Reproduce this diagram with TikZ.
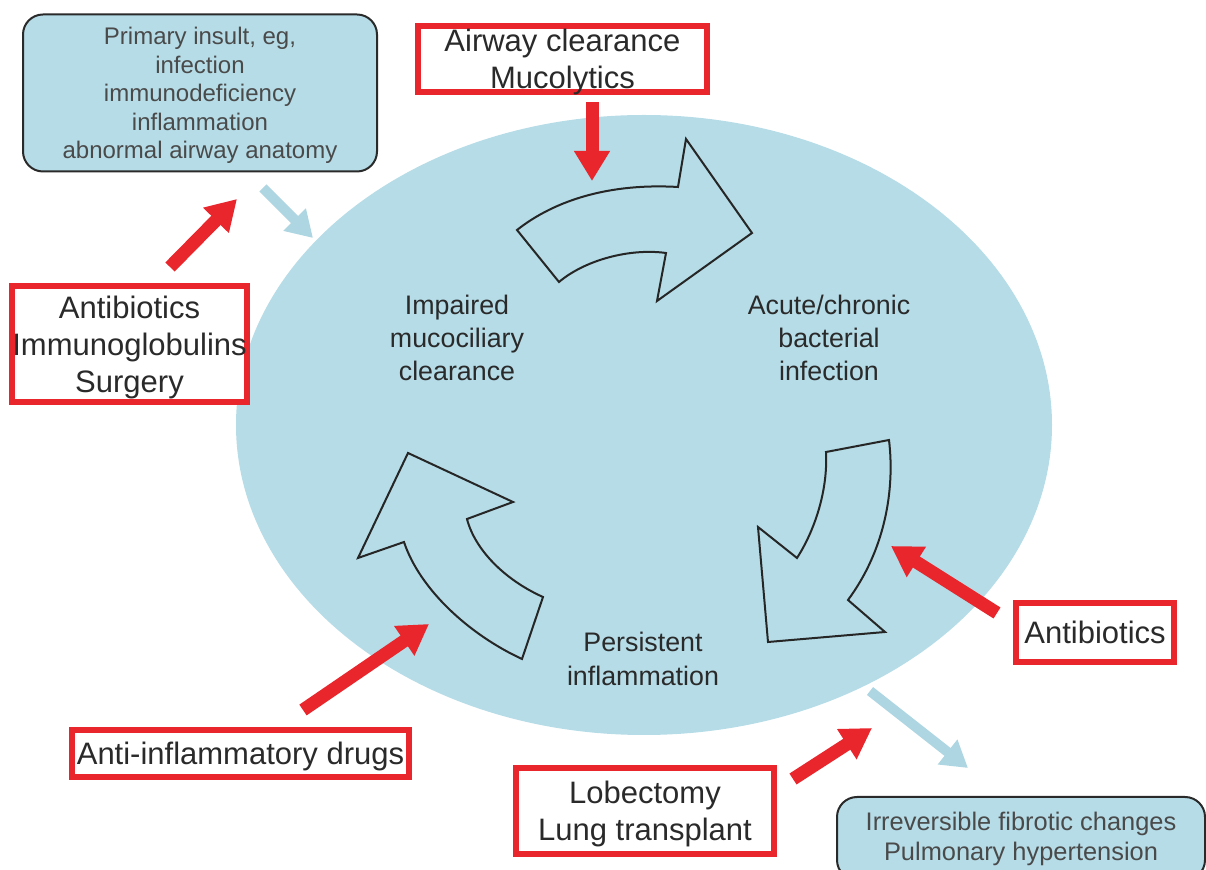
\documentclass[tikz,border=0pt]{standalone}
\usepackage{fontspec}
\setmainfont{Liberation Sans}
\usepackage{xcolor}
\definecolor{cyclefill}{HTML}{B5DCE7}
\definecolor{txred}{HTML}{E8262C}
\definecolor{paleblue}{HTML}{AED6E2}
\definecolor{inkgray}{HTML}{2A2A2A}
\usetikzlibrary{arrows.meta, positioning, calc}

\begin{document}
\begin{tikzpicture}[x=0.5pt, y=-0.5pt,
  treatbox/.style={draw=txred, line width=3pt, fill=white, inner sep=0pt, align=center,
    text=inkgray, text depth=0pt, font=\fontsize{15.5}{18.5}\selectfont},
  infobox/.style={draw=inkgray, line width=1pt, fill=cyclefill, rounded corners=10pt,
    inner sep=0pt, align=center, text=inkgray!85},
  stagelabel/.style={align=center, text=inkgray, font=\fontsize{13.4}{16.3}\selectfont},
  fatred/.style={draw=txred, line width=6.5pt, -{Triangle[width=17pt,length=15pt]}},
  fatblue/.style={draw=paleblue, line width=5pt, -{Triangle[width=15pt,length=13pt]}},
  cyclearrow/.style={draw=black!85, line width=1pt, line join=miter}]

  \useasboundingbox (0,0) rectangle (1206,870);
  \clip (0,0) rectangle (1206,870);

  % The vicious cycle (ellipse)
  \fill[cyclefill] (644,425) ellipse [x radius=408, y radius=310];

  % Curved block arrows of the cycle
  \draw[cyclearrow] (517,230) .. controls (555,200) and (610,183) .. (678,187)
    -- (686,139) -- (752,233) -- (657,301) -- (666,253)
    .. controls (630,248) and (585,260) .. (559,282) -- cycle;
  \draw[cyclearrow] (826,452) -- (889,440) .. controls (895,490) and (885,550) .. (848,600)
    -- (885,632) -- (768,642) -- (758,527) -- (797,558)
    .. controls (815,530) and (828,490) .. cycle;
  \draw[cyclearrow] (408,453) -- (513,502) -- (467,519)
    .. controls (475,550) and (505,580) .. (543,597) -- (522,659)
    .. controls (470,635) and (420,590) .. (404,542) -- (358,558) -- cycle;

  % Stages of the cycle
  \node[stagelabel] (impaired) at (457,338) {Impaired\\mucociliary\\clearance};
  \node[stagelabel] (acute) at (829,338) {Acute/chronic\\bacterial\\infection};
  \node[stagelabel, font=\fontsize{13.4}{17}\selectfont] (persist) at (643,659) {Persistent\\inflammation};

  % Entry and outcome boxes
  \node[infobox, minimum width=177pt, minimum height=78.5pt, text depth=0pt,
    font=\fontsize{12}{14.3}\selectfont] (insult) at (200,93)
    {Primary insult, eg,\\infection\\immunodeficiency\\inflammation\\abnormal airway anatomy};
  \node[infobox, minimum width=184pt, minimum height=41.5pt,
    font=\fontsize{12.7}{15}\selectfont] (outcome) at (1021,838.5)
    {Irreversible fibrotic changes\\Pulmonary hypertension};

  % Treatment boxes
  \node[treatbox, minimum width=144.5pt, minimum height=33pt] (airway) at (562.5,59)
    {Airway clearance\\Mucolytics};
  \node[treatbox, minimum width=115.5pt, minimum height=58pt] (abxtop) at (129.5,344)
    {Antibiotics\\Immunoglobulins\\Surgery};
  \node[treatbox, minimum width=168.5pt, minimum height=23.5pt] (antiinf) at (240.5,753.5)
    {Anti-inflammatory drugs};
  \node[treatbox, minimum width=79pt, minimum height=29.5pt] (abxright) at (1095,632.5)
    {Antibiotics};
  \node[treatbox, minimum width=129pt, minimum height=43pt] (surgery) at (645,811)
    {Lobectomy\\Lung transplant};

  % Arrow end points
  \coordinate (airS) at (592,102);   \coordinate (airT) at (592,181);
  \coordinate (abxS) at (170,267);   \coordinate (abxT) at (237,199);
  \coordinate (infS) at (303,710);   \coordinate (infT) at (429,624);
  \coordinate (rgtS) at (997,613);   \coordinate (rgtT) at (891,546);
  \coordinate (surS) at (793,779);   \coordinate (surT) at (872,728);
  \coordinate (inS) at (263,188);    \coordinate (inT) at (313,238);
  \coordinate (outS) at (870,691);   \coordinate (outT) at (968,768);

  % Treatment arrows
  \draw[fatred] (airS) -- (airT);
  \draw[fatred] (abxS) -- (abxT);
  \draw[fatred] (infS) -- (infT);
  \draw[fatred] (rgtS) -- (rgtT);
  \draw[fatred] (surS) -- (surT);

  % Into and out of the cycle
  \draw[fatblue] (inS) -- (inT);
  \draw[fatblue] (outS) -- (outT);
\end{tikzpicture}
\end{document}
